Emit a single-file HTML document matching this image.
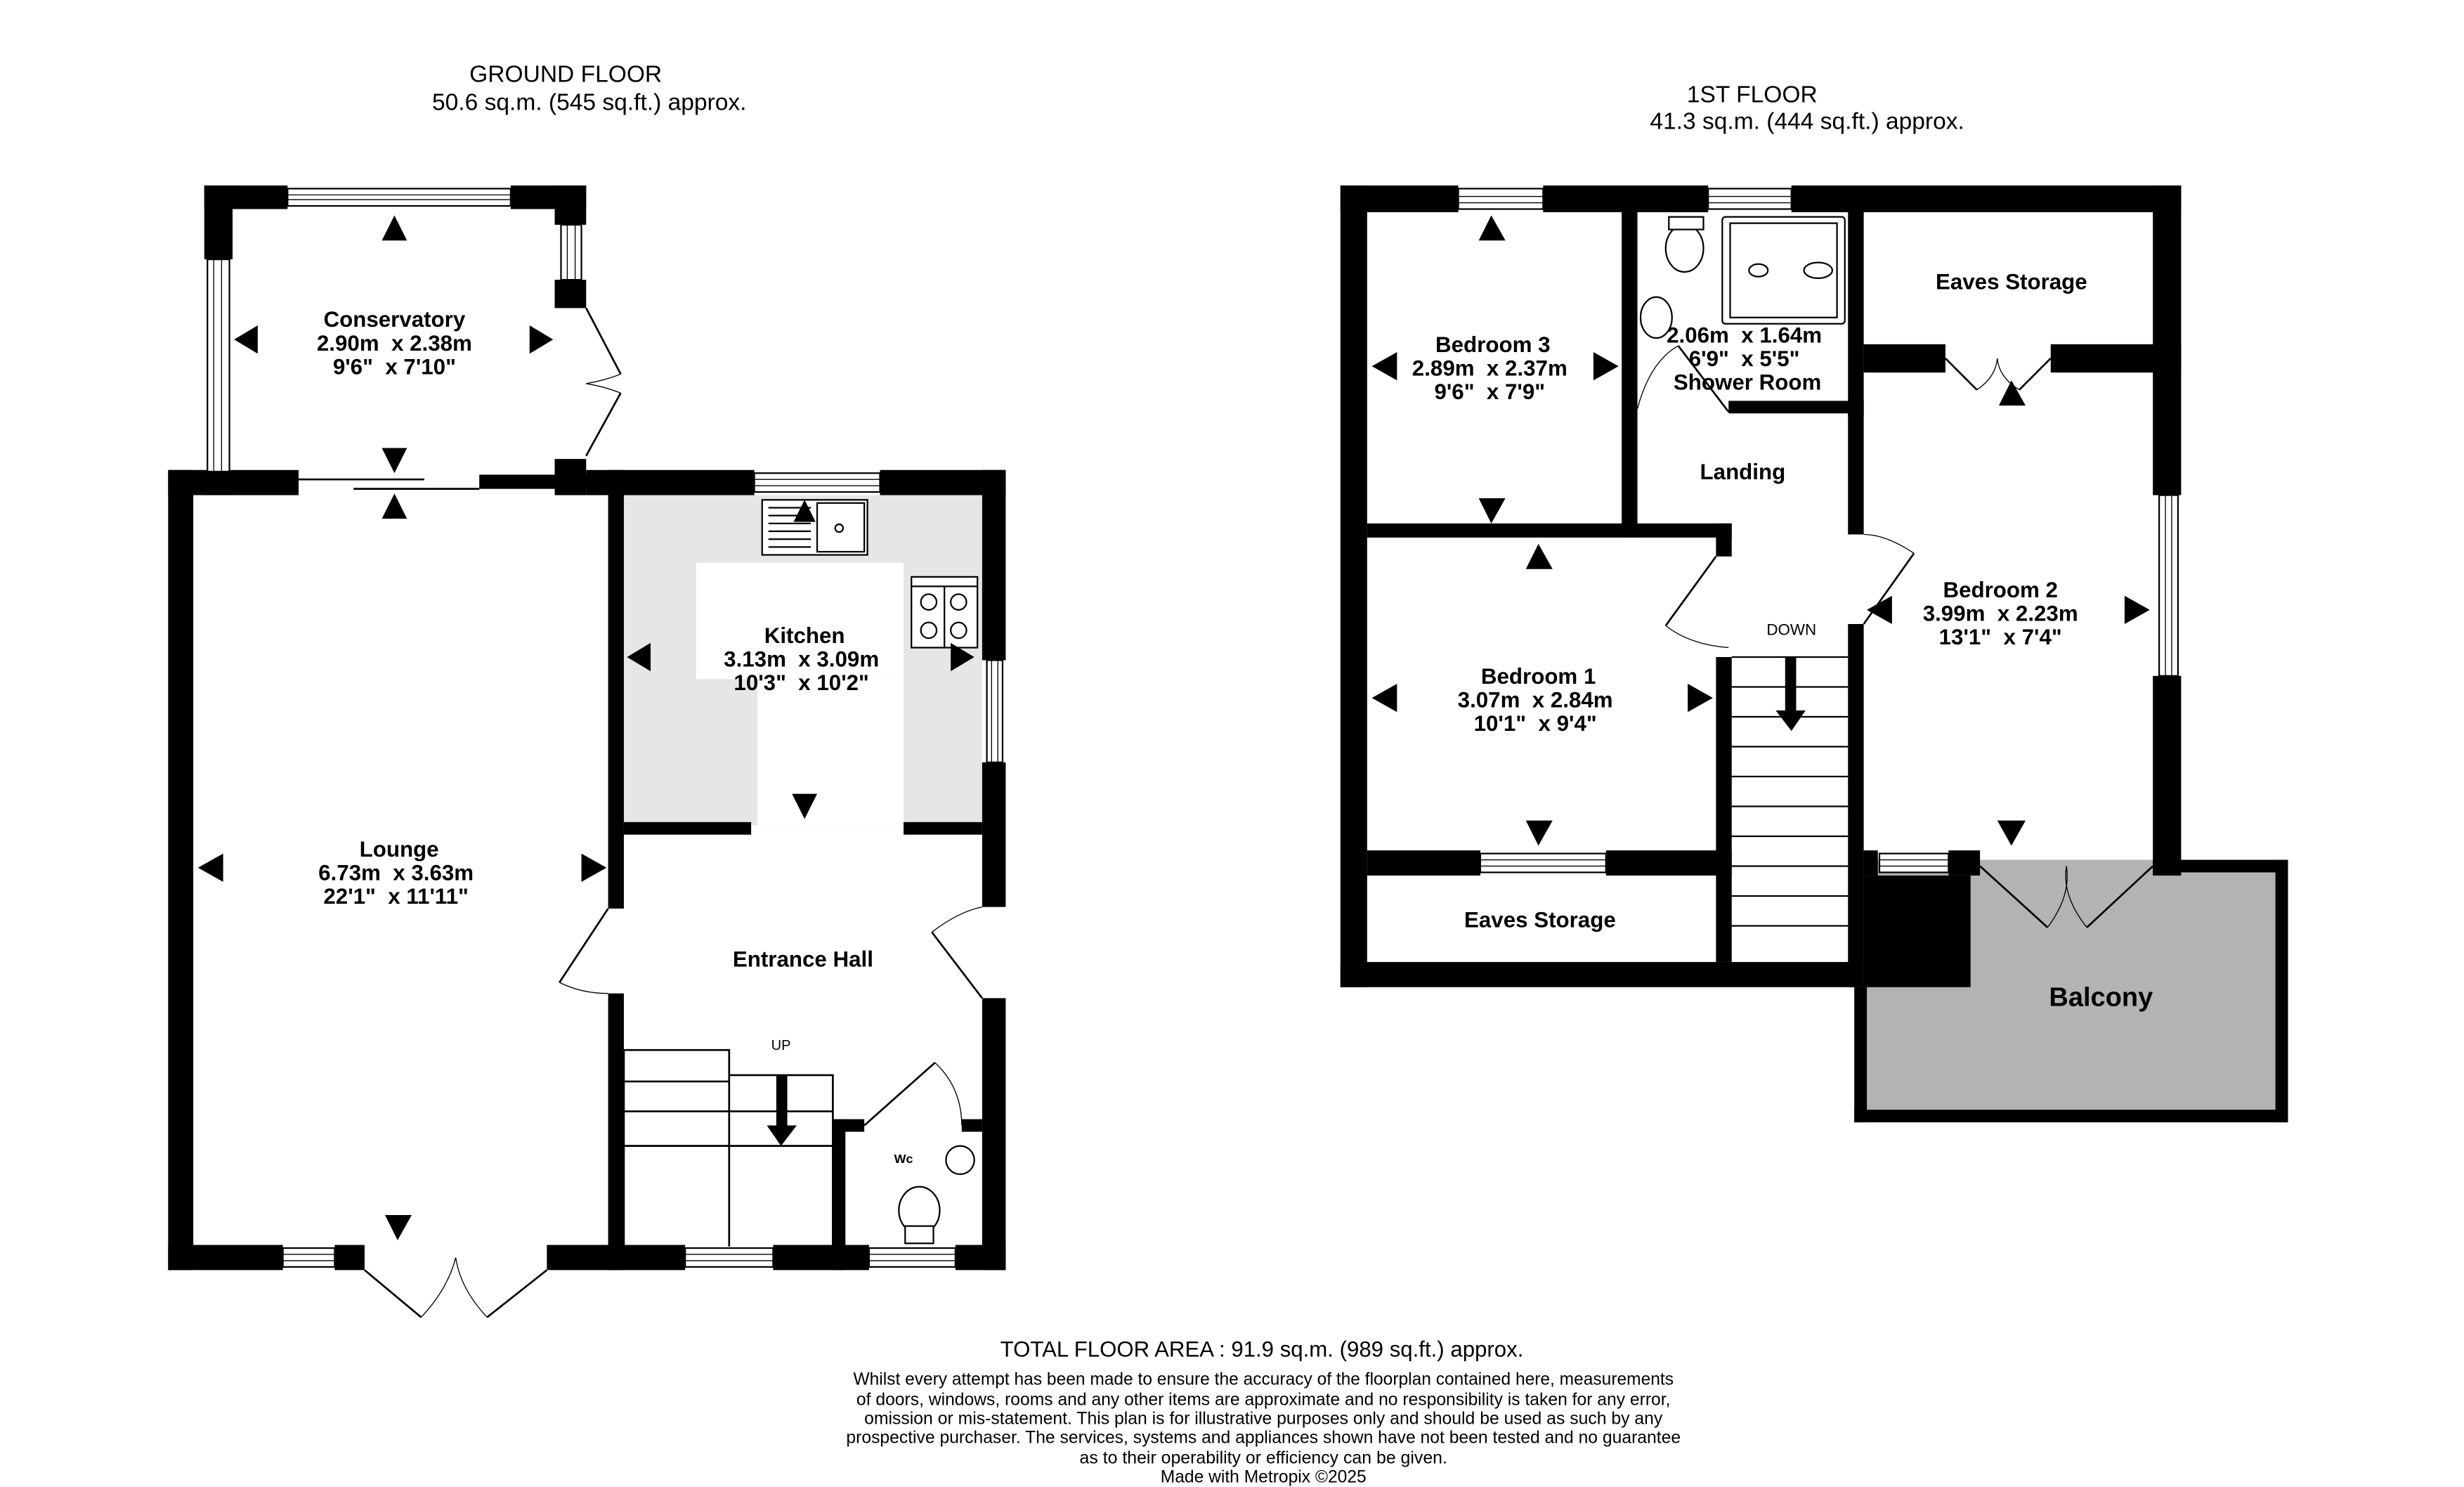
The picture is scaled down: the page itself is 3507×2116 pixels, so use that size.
<!DOCTYPE html>
<html><head><meta charset="utf-8"><style>html,body{margin:0;padding:0;background:#fff}svg{display:block}text{white-space:pre}</style></head><body>
<svg width="3507" height="2116" viewBox="0 0 1568 946" preserveAspectRatio="none" xmlns="http://www.w3.org/2000/svg" font-family="Liberation Sans, sans-serif">
<rect width="1568" height="946" fill="#fff"/>
<g font-size="15" text-anchor="middle" fill="#000">
<text x="360" y="52">GROUND FLOOR</text>
<text x="375" y="70">50.6 sq.m. (545 sq.ft.) approx.</text>
<text x="1115" y="65">1ST FLOOR</text>
<text x="1150" y="82">41.3 sq.m. (444 sq.ft.) approx.</text>
</g>
<rect x="397" y="315" width="228" height="210" fill="#e6e6e6"/>
<rect x="443" y="358" width="132" height="74" fill="#fff"/>
<rect x="482" y="432" width="93" height="93" fill="#fff"/>
<g fill="#000">
<rect x="107" y="299" width="16" height="509"/>
<rect x="107" y="299" width="83" height="16"/>
<rect x="305" y="302" width="92" height="9"/>
<rect x="353" y="292" width="20" height="23"/>
<rect x="373" y="299" width="107" height="16"/>
<rect x="387" y="299" width="10" height="279"/>
<rect x="387" y="632" width="10" height="176"/>
<rect x="107" y="792" width="73" height="16"/>
<rect x="213" y="792" width="19" height="16"/>
<rect x="348" y="792" width="88" height="16"/>
<rect x="492" y="792" width="61" height="16"/>
<rect x="608" y="792" width="32" height="16"/>
<rect x="130" y="118" width="53" height="15"/>
<rect x="325" y="118" width="48" height="15"/>
<rect x="130" y="118" width="18" height="47"/>
<rect x="130" y="300" width="18" height="15"/>
<rect x="353" y="118" width="20" height="25"/>
<rect x="353" y="178" width="20" height="18"/>
<rect x="148" y="302" width="42" height="9"/>
<rect x="560" y="299" width="80" height="16"/>
<rect x="625" y="299" width="15" height="121"/>
<rect x="625" y="485" width="15" height="92"/>
<rect x="625" y="635" width="15" height="173"/>
<rect x="397" y="523" width="81" height="8"/>
<rect x="575" y="523" width="50" height="8"/>
<rect x="532" y="712" width="18" height="8"/>
<rect x="530" y="712" width="8" height="96"/>
<rect x="612" y="712" width="13" height="8"/>
</g>
<g fill="#fff" stroke="#000" stroke-width="1">
<rect x="183" y="120" width="142" height="11"/>
<rect x="132" y="165" width="14" height="135"/>
<rect x="357" y="143" width="13" height="35"/>
<rect x="480" y="301" width="80" height="12"/>
<rect x="628" y="420" width="10" height="65"/>
<rect x="180" y="794" width="33" height="12"/>
<rect x="436" y="794" width="56" height="12"/>
<rect x="553" y="794" width="55" height="12"/>
</g>
<g stroke="#000" stroke-width="0.6">
<line x1="183" y1="124" x2="325" y2="124"/><line x1="183" y1="127" x2="325" y2="127"/>
<line x1="136" y1="165" x2="136" y2="300"/><line x1="141" y1="165" x2="141" y2="300"/>
<line x1="361" y1="143" x2="361" y2="178"/><line x1="366" y1="143" x2="366" y2="178"/>
<line x1="480" y1="305" x2="560" y2="305"/><line x1="480" y1="309" x2="560" y2="309"/>
<line x1="631" y1="420" x2="631" y2="485"/><line x1="635" y1="420" x2="635" y2="485"/>
<line x1="180" y1="798" x2="213" y2="798"/><line x1="180" y1="802" x2="213" y2="802"/>
<line x1="436" y1="798" x2="492" y2="798"/><line x1="436" y1="802" x2="492" y2="802"/>
<line x1="553" y1="798" x2="608" y2="798"/><line x1="553" y1="802" x2="608" y2="802"/>
</g>
<g fill="none" stroke="#000" stroke-width="1.2">
<line x1="190" y1="305" x2="270" y2="305"/>
<line x1="225" y1="311" x2="305" y2="311"/>
<polyline points="373,196 395,238"/>
<polyline points="373,290 395,250"/>
<path d="M395,238 Q385,242 373,244 M395,250 Q385,246 373,244" stroke-width="0.6"/>
<line x1="387" y1="578" x2="356" y2="625"/>
<path d="M356,625 Q370,632 387,632" stroke-width="0.6"/>
<line x1="625" y1="635" x2="593" y2="593"/>
<path d="M593,593 Q610,580 625,577" stroke-width="0.6"/>
<line x1="232" y1="808" x2="268" y2="838"/>
<line x1="348" y1="808" x2="310" y2="838"/>
<path d="M268,838 Q285,820 290,800 M310,838 Q293,820 290,800" stroke-width="0.6"/>
<line x1="550" y1="716" x2="595" y2="676"/>
<path d="M595,676 Q612,692 612,716" stroke-width="0.6"/>
</g>
<g fill="#fff" stroke="#000" stroke-width="1">
<rect x="485" y="318" width="67" height="35"/>
<rect x="520" y="320" width="30" height="31"/>
<circle cx="534" cy="336" r="2.5"/>
<line x1="489" y1="323" x2="516" y2="323"/><line x1="489" y1="328" x2="516" y2="328"/><line x1="489" y1="333" x2="516" y2="333"/><line x1="489" y1="338" x2="516" y2="338"/><line x1="489" y1="343" x2="516" y2="343"/><line x1="489" y1="348" x2="516" y2="348"/>
<rect x="580" y="367" width="42" height="45"/>
<line x1="580" y1="373" x2="622" y2="373"/>
<circle cx="591" cy="383" r="5"/><circle cx="610" cy="383" r="5"/><circle cx="591" cy="401" r="5"/><circle cx="610" cy="401" r="5"/>
<line x1="601" y1="373" x2="601" y2="412"/>
</g>
<g fill="none" stroke="#000" stroke-width="1.2">
<polyline points="397,668 464,668 464,793"/>
<polyline points="464,684 530,684 530,793"/>
<line x1="397" y1="688" x2="464" y2="688"/>
<line x1="397" y1="707" x2="464" y2="707"/>
<line x1="397" y1="729" x2="530" y2="729"/>
<line x1="464" y1="707" x2="530" y2="707"/>
<line x1="397" y1="668" x2="397" y2="793"/>
</g>
<rect x="494" y="684" width="7" height="34" fill="#000"/>
<polygon points="488,716 507,716 497,729" fill="#000"/>
<text x="497" y="668" font-size="9" text-anchor="middle">UP</text>
<g fill="#fff" stroke="#000" stroke-width="1">
<ellipse cx="585" cy="770" rx="13" ry="15"/>
<rect x="576" y="780" width="18" height="11"/>
<circle cx="611" cy="738" r="9"/>
</g>
<text x="575" y="740" font-size="8" font-weight="bold" text-anchor="middle">Wc</text>
<g fill="#000">
<polygon points="243,153 259,153 251,137"/>
<polygon points="149,216 164,207 164,225"/>
<polygon points="352,216 337,207 337,225"/>
<polygon points="243,285 259,285 251,301"/>
<polygon points="243,330 259,330 251,314"/>
<polygon points="505,332 519,332 512,318"/>
<polygon points="399,418 414,409 414,427"/>
<polygon points="620,418 605,409 605,427"/>
<polygon points="504,505 520,505 512,521"/>
<polygon points="126,552 142,543 142,561"/>
<polygon points="386,552 370,543 370,561"/>
<polygon points="245,773 262,773 253,789"/>
</g>
<g font-size="14" font-weight="bold" text-anchor="middle">
<text x="251" y="208">Conservatory</text><text x="251" y="223">2.90m  x 2.38m</text><text x="251" y="238">9'6"  x 7'10"</text>
<text x="512" y="409">Kitchen</text><text x="510" y="424">3.13m  x 3.09m</text><text x="510" y="439">10'3"  x 10'2"</text>
<text x="254" y="545">Lounge</text><text x="252" y="560">6.73m  x 3.63m</text><text x="252" y="575">22'1"  x 11'11"</text>
<text x="511" y="615">Entrance Hall</text>
</g>
<polygon points="1180,547 1456,547 1456,714 1180,714" fill="#b3b3b3"/>
<g fill="#000">
<rect x="1180" y="706" width="276" height="8"/>
<rect x="1448" y="547" width="8" height="167"/>
<rect x="1180" y="628" width="8" height="86"/>
<rect x="1370" y="547" width="86" height="8"/>
<rect x="853" y="118" width="75" height="17"/>
<rect x="982" y="118" width="105" height="17"/>
<rect x="1140" y="118" width="248" height="17"/>
<rect x="853" y="118" width="17" height="510"/>
<rect x="853" y="612" width="333" height="16"/>
<rect x="1370" y="118" width="18" height="197"/>
<rect x="1370" y="430" width="18" height="127"/>
<rect x="1032" y="135" width="10" height="207"/>
<rect x="870" y="333" width="232" height="9"/>
<rect x="1092" y="333" width="10" height="21"/>
<rect x="1176" y="135" width="10" height="130"/>
<rect x="1186" y="219" width="52" height="18"/>
<rect x="1305" y="219" width="83" height="18"/>
<rect x="1100" y="255" width="86" height="8"/>
<rect x="1176" y="255" width="10" height="85"/>
<rect x="1176" y="397" width="10" height="231"/>
<rect x="1092" y="418" width="10" height="194"/>
<rect x="870" y="541" width="72" height="16"/>
<rect x="1022" y="541" width="80" height="16"/>
<rect x="1186" y="557" width="68" height="71"/>
<rect x="1186" y="541" width="9" height="16"/>
<rect x="1240" y="541" width="20" height="16"/>
</g>
<g fill="#fff" stroke="#000" stroke-width="1">
<rect x="928" y="120" width="54" height="13"/>
<rect x="1087" y="120" width="53" height="13"/>
<rect x="1374" y="315" width="12" height="115"/>
<rect x="942" y="543" width="80" height="12"/>
<rect x="1196" y="543" width="44" height="12"/>
</g>
<g stroke="#000" stroke-width="0.6">
<line x1="928" y1="125" x2="982" y2="125"/><line x1="928" y1="129" x2="982" y2="129"/>
<line x1="1087" y1="125" x2="1140" y2="125"/><line x1="1087" y1="129" x2="1140" y2="129"/>
<line x1="1378" y1="315" x2="1378" y2="430"/><line x1="1382" y1="315" x2="1382" y2="430"/>
<line x1="942" y1="547" x2="1022" y2="547"/><line x1="942" y1="551" x2="1022" y2="551"/>
<line x1="1196" y1="547" x2="1240" y2="547"/><line x1="1196" y1="551" x2="1240" y2="551"/>
</g>
<g stroke="#000" stroke-width="1">
<line x1="1102" y1="418" x2="1176" y2="418"/>
<line x1="1102" y1="437" x2="1176" y2="437"/><line x1="1102" y1="456" x2="1176" y2="456"/>
<line x1="1102" y1="475" x2="1176" y2="475"/><line x1="1102" y1="494" x2="1176" y2="494"/>
<line x1="1102" y1="513" x2="1176" y2="513"/><line x1="1102" y1="532" x2="1176" y2="532"/>
<line x1="1102" y1="551" x2="1176" y2="551"/><line x1="1102" y1="570" x2="1176" y2="570"/>
<line x1="1102" y1="589" x2="1176" y2="589"/>
</g>
<rect x="1136" y="418" width="7" height="34" fill="#000"/>
<polygon points="1130,452 1149,452 1140,465" fill="#000"/>
<text x="1140" y="404" font-size="10" text-anchor="middle">DOWN</text>
<g fill="none" stroke="#000" stroke-width="1.2">
<line x1="1092" y1="354" x2="1060" y2="398"/>
<path d="M1060,398 Q1075,410 1100,412" stroke-width="0.6"/>
<line x1="1186" y1="397" x2="1218" y2="352"/>
<path d="M1218,352 Q1200,340 1186,340" stroke-width="0.6"/>
<line x1="1238" y1="228" x2="1258" y2="248"/><line x1="1305" y1="228" x2="1285" y2="248"/>
<path d="M1258,248 Q1270,240 1271,228 M1285,248 Q1272,240 1271,228" stroke-width="0.6"/>
<line x1="1260" y1="551" x2="1303" y2="590"/><line x1="1370" y1="551" x2="1328" y2="590"/>
<path d="M1303,590 Q1318,570 1315,551 M1328,590 Q1312,570 1315,551" stroke-width="0.6"/>
<line x1="1100" y1="262" x2="1068" y2="220"/>
<path d="M1068,220 Q1050,230 1042,260" stroke-width="0.6"/>
</g>
<g fill="#fff" stroke="#000" stroke-width="1">
<rect x="1096" y="138" width="78" height="68" rx="2"/>
<rect x="1101" y="142" width="68" height="60"/>
<ellipse cx="1119" cy="172" rx="6" ry="4"/>
<ellipse cx="1157" cy="172" rx="9" ry="5"/>
<ellipse cx="1072" cy="158" rx="12" ry="15"/>
<rect x="1062" y="138" width="22" height="8"/>
<ellipse cx="1054" cy="202" rx="10" ry="13"/>
</g>
<g fill="#000">
<polygon points="941,153 958,153 949,137"/>
<polygon points="873,233 889,224 889,242"/>
<polygon points="1030,233 1014,224 1014,242"/>
<polygon points="941,317 958,317 949,333"/>
<polygon points="971,362 988,362 979,346"/>
<polygon points="873,444 889,435 889,453"/>
<polygon points="1090,444 1074,435 1074,453"/>
<polygon points="971,522 988,522 979,538"/>
<polygon points="1272,258 1289,258 1280,242"/>
<polygon points="1188,388 1204,379 1204,397"/>
<polygon points="1368,388 1352,379 1352,397"/>
<polygon points="1271,522 1289,522 1280,538"/>
</g>
<g font-size="14" font-weight="bold" text-anchor="middle">
<text x="950" y="224">Bedroom 3</text><text x="948" y="239">2.89m  x 2.37m</text><text x="948" y="254">9'6"  x 7'9"</text>
<text x="1110" y="218">2.06m  x 1.64m</text><text x="1110" y="233">6'9"  x 5'5"</text><text x="1112" y="248">Shower Room</text>
<text x="1280" y="184">Eaves Storage</text>
<text x="1109" y="305">Landing</text>
<text x="1273" y="380">Bedroom 2</text><text x="1273" y="395">3.99m  x 2.23m</text><text x="1273" y="410">13'1"  x 7'4"</text>
<text x="979" y="435">Bedroom 1</text><text x="977" y="450">3.07m  x 2.84m</text><text x="977" y="465">10'1"  x 9'4"</text>
<text x="980" y="590">Eaves Storage</text>
<text x="1337" y="640" font-size="17">Balcony</text>
</g>
<g text-anchor="middle" font-family="Liberation Sans Narrow, Liberation Sans, sans-serif">
<text x="803" y="863" font-size="14" textLength="333" lengthAdjust="spacingAndGlyphs">TOTAL FLOOR AREA : 91.9 sq.m. (989 sq.ft.) approx.</text>
<g font-size="11">
<text x="804" y="881" textLength="522" lengthAdjust="spacingAndGlyphs">Whilst every attempt has been made to ensure the accuracy of the floorplan contained here, measurements</text>
<text x="804" y="894" textLength="518" lengthAdjust="spacingAndGlyphs">of doors, windows, rooms and any other items are approximate and no responsibility is taken for any error,</text>
<text x="804" y="906" textLength="508" lengthAdjust="spacingAndGlyphs">omission or mis-statement. This plan is for illustrative purposes only and should be used as such by any</text>
<text x="804" y="918" textLength="531" lengthAdjust="spacingAndGlyphs">prospective purchaser. The services, systems and appliances shown have not been tested and no guarantee</text>
<text x="804" y="931" textLength="234" lengthAdjust="spacingAndGlyphs">as to their operability or efficiency can be given.</text>
<text x="804" y="943" textLength="131" lengthAdjust="spacingAndGlyphs">Made with Metropix ©2025</text>
</g>
</g>
</svg>
</body></html>
